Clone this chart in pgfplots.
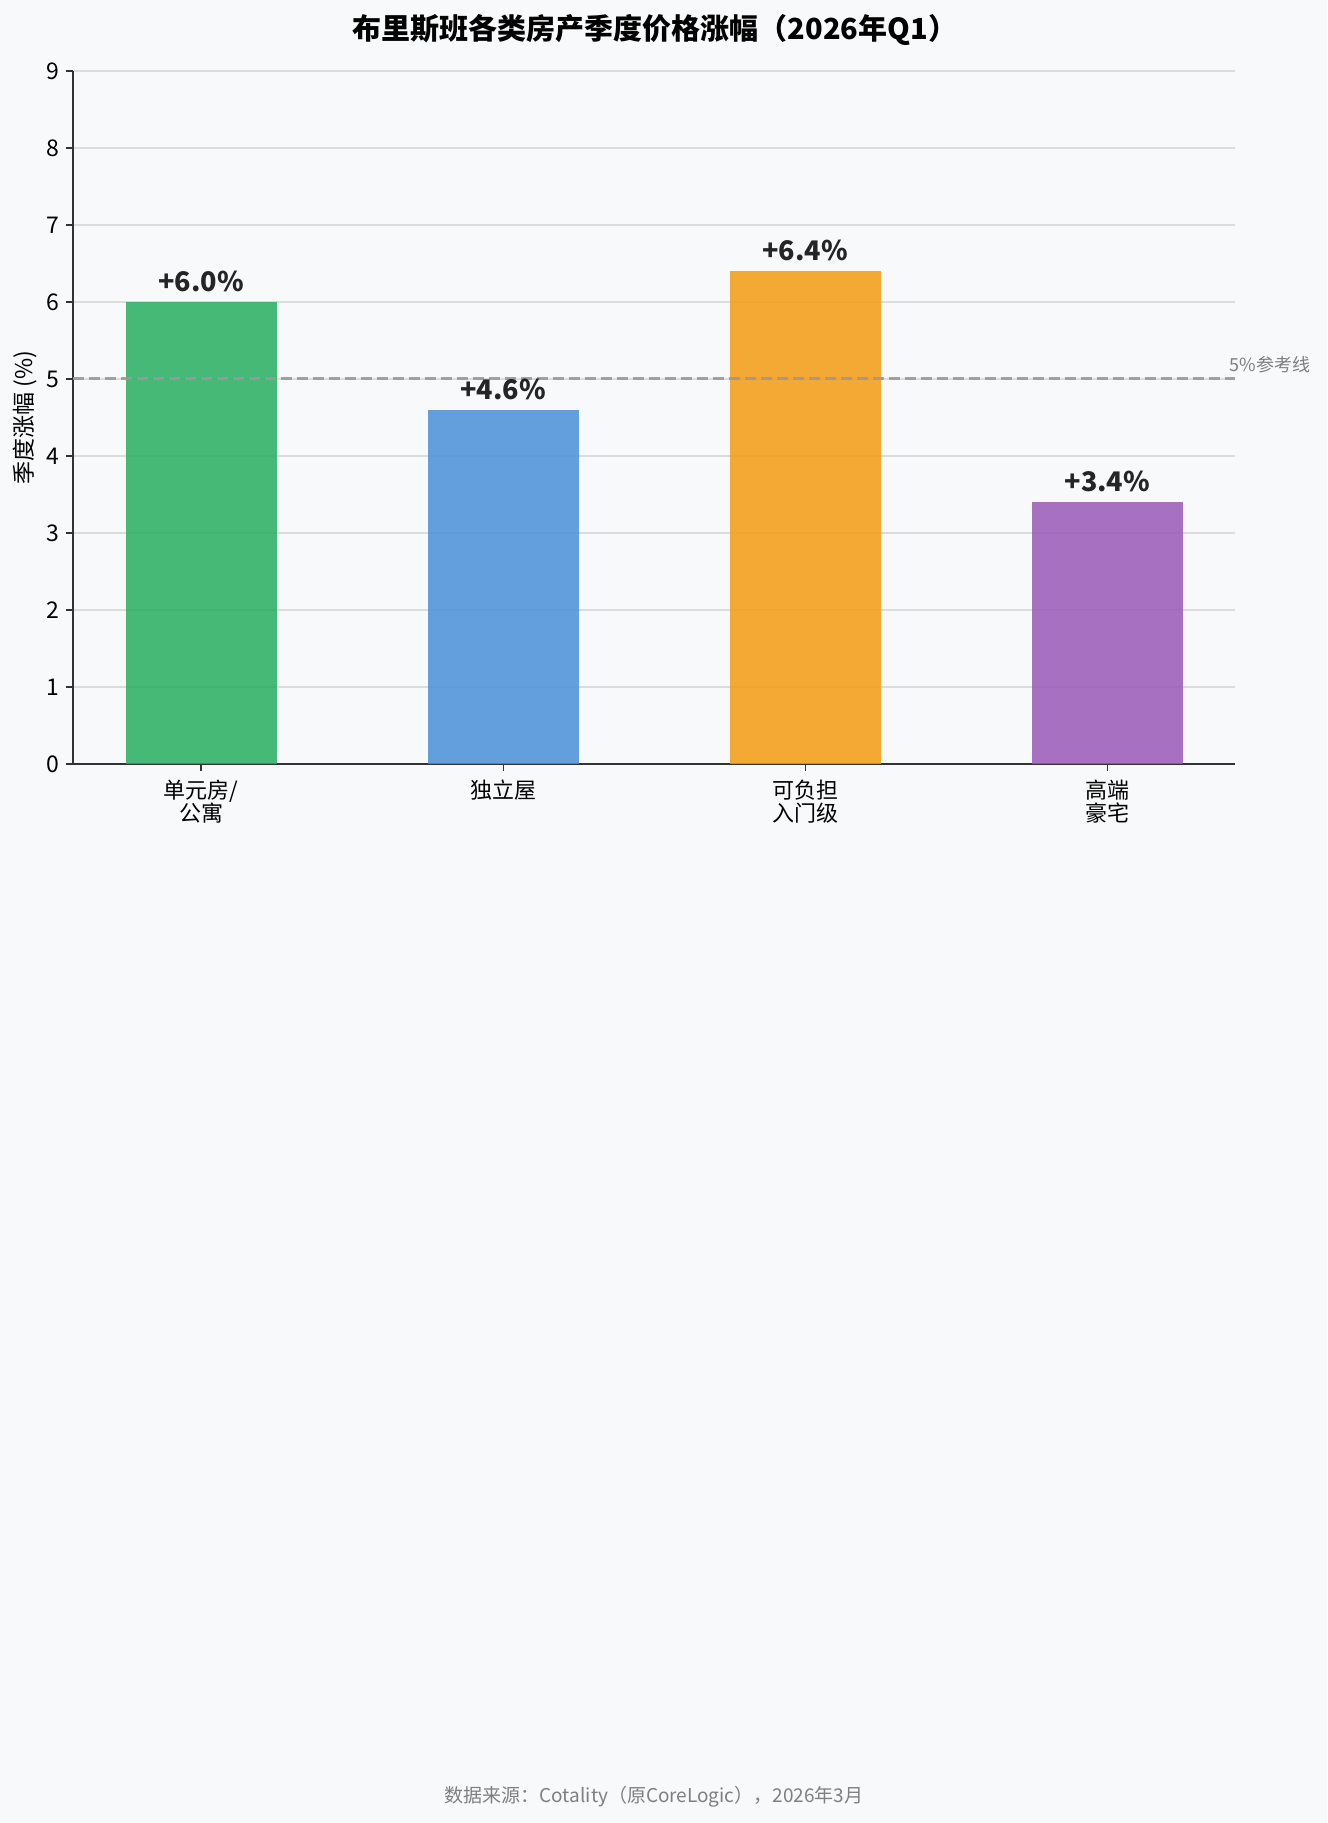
\documentclass[border=0pt]{standalone}
\usepackage{fontspec}
\setmainfont{Noto Sans CJK SC}
\usepackage{pgfplots}
\pgfplotsset{compat=1.18}
\definecolor{bg}{HTML}{F8F9FA}
\definecolor{cgreen}{HTML}{27AE60}
\definecolor{cblue}{HTML}{4A90D9}
\definecolor{corange}{HTML}{F39C12}
\definecolor{cpurple}{HTML}{9B59B6}
\definecolor{gridc}{HTML}{DCDCDC}
\definecolor{refc}{HTML}{999999}
\definecolor{axc}{HTML}{333333}
\definecolor{footc}{HTML}{7F7F7F}
\begin{document}
\begin{tikzpicture}
\fill[bg] (0,0) rectangle (663.5pt,911.5pt);
\begin{axis}[
  at={(36.65pt,529.5pt)}, anchor=south west,
  scale only axis, width=580.9pt, height=346.5pt,
  xmin=-0.423, xmax=3.423, ymin=0, ymax=9,
  axis x line*=bottom, axis y line*=left,
  axis line style={line width=1pt, color=axc},
  tick align=outside, major tick length=3.5pt,
  tick style={color=axc, line width=0.6pt},
  xtick={0,1,2,3},
  xticklabels={{单元房/\\公寓},{独立屋},{可负担\\入门级},{高端\\豪宅}},
  xticklabel style={align=center, font=\fontsize{11}{11.5}\selectfont, yshift=-1pt},
  ytick={0,1,...,9},
  yticklabel style={font=\fontsize{11.5}{13}\selectfont},
  /pgf/number format/assume math mode=true,
  ymajorgrids, grid style={color=gridc, line width=0.7pt},
  ylabel={季度涨幅 (\%)},
  ylabel style={at={(axis description cs:-0.0413,0.5)}, anchor=center, font=\fontsize{11.5}{13}\selectfont},
  ybar, bar width=0.5, 
  nodes near coords={+\pgfmathprintnumber[fixed,fixed zerofill,precision=1]{\pgfplotspointmeta}\%},
  every node near coord/.append style={font=\fontsize{13.5}{15}\bfseries\selectfont, color=black, yshift=1.5pt},
  clip=false,
]
\addplot[ybar, draw=none, fill=cgreen, fill opacity=0.85, bar shift=0pt] coordinates {(0,6.0)};
\addplot[ybar, draw=none, fill=cblue, fill opacity=0.85, bar shift=0pt] coordinates {(1,4.6)};
\addplot[ybar, draw=none, fill=corange, fill opacity=0.85, bar shift=0pt] coordinates {(2,6.4)};
\addplot[ybar, draw=none, fill=cpurple, fill opacity=0.85, bar shift=0pt] coordinates {(3,3.4)};
\addplot[sharp plot, nodes near coords={}, color=refc, line width=1.5pt, dash pattern=on 5.5pt off 2.5pt, draw opacity=0.9] coordinates {(-0.423,5) (3.423,5)};
\node[anchor=base west, font=\fontsize{9}{10}\selectfont, color=footc, inner sep=0pt] at ([xshift=-3pt,yshift=3.5pt]axis cs:3.423,5) {5\%参考线};
\end{axis}
\node[font=\fontsize{14.5}{16}\bfseries\selectfont] at (327.5pt,896.5pt) {布里斯班各类房产季度价格涨幅（2026年Q1）};
\node[font=\fontsize{9.5}{11}\selectfont, color=footc] at (327pt,13pt) {数据来源：Cotality（原CoreLogic），2026年3月};
\end{tikzpicture}
\end{document}
